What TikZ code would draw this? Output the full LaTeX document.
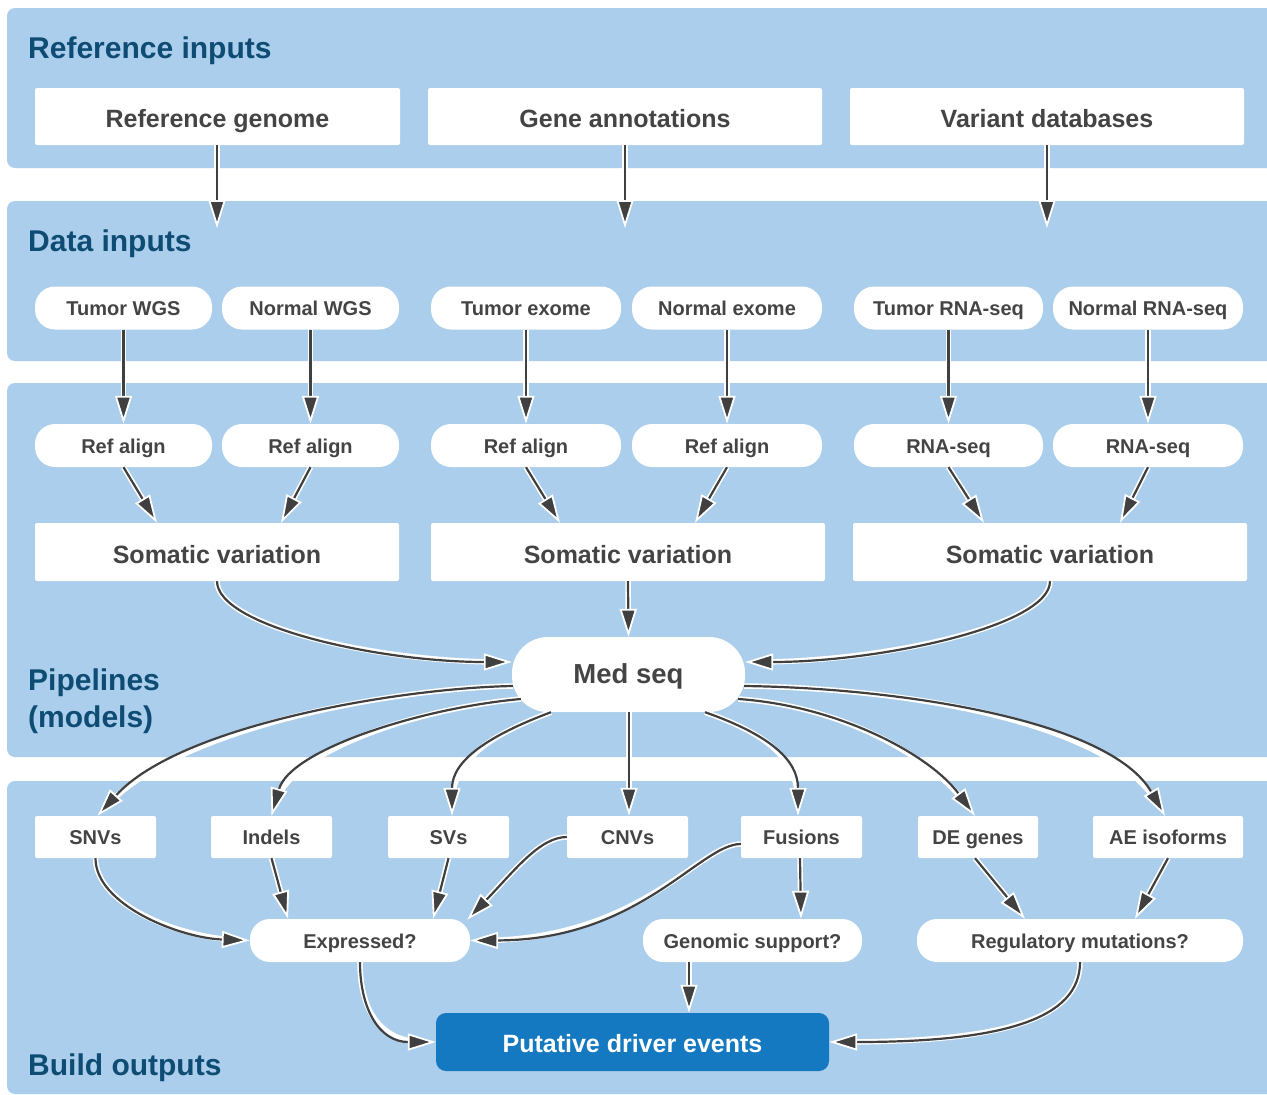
\documentclass[tikz,border=0pt]{standalone}
\usepackage{fontspec}
\setmainfont{Liberation Sans}
\usetikzlibrary{arrows.meta}
\definecolor{panel}{RGB}{170,206,235}
\definecolor{head}{RGB}{14,76,116}
\definecolor{txt}{RGB}{68,68,68}
\definecolor{outb}{RGB}{20,121,192}
\definecolor{dk}{RGB}{64,64,64}
\begin{document}
\begin{tikzpicture}[x=1pt,y=-1pt,
  heading/.style={anchor=base west, inner sep=0pt, text=head, font=\fontsize{30}{34}\selectfont\bfseries},
  nd/.style={fill=white, inner sep=0pt, text=txt, text depth=0pt},
  bigbox/.style={nd, rectangle, rounded corners=2pt, minimum height=57pt, text height=22.3pt, font=\fontsize{25}{30}\selectfont\bfseries},
  smallbox/.style={nd, rectangle, rounded corners=2pt, minimum height=42pt, text height=15.7pt, font=\fontsize{20}{24}\selectfont\bfseries},
  pill/.style={nd, rectangle, rounded corners=20pt, minimum height=43pt, text height=15.8pt, font=\fontsize{20}{24}\selectfont\bfseries},
  medbox/.style={nd, rectangle, rounded corners=36pt, minimum height=75pt, minimum width=233pt, text height=18.8pt, font=\fontsize{27.5}{32}\selectfont\bfseries},
  outbox/.style={nd, fill=outb, text=white, rectangle, rounded corners=10pt, minimum height=58pt, minimum width=393pt, text height=21.4pt, font=\fontsize{25}{30}\selectfont\bfseries},
  arr/.style={dk, line width=2.2pt,
    preaction={draw=white, line width=5.5pt, -, shorten >=12pt},
    -{Triangle[length=28pt,width=17pt,color=white,fill=dk,line width=1.8pt]}}
]
\clip (0,0) rectangle (1267,1095);
\fill[white] (0,0) rectangle (1267,1095);
% panels
\fill[panel, rounded corners=8pt] (7,8) rectangle (1290,168);
\fill[panel, rounded corners=8pt] (7,201) rectangle (1290,361);
\fill[panel, rounded corners=8pt] (7,383) rectangle (1290,757);
\fill[panel, rounded corners=8pt] (7,781) rectangle (1290,1094);
% headings
\node[heading] (h1) at (28,58) {Reference inputs};
\node[heading] (h2) at (28,251) {Data inputs};
\node[heading] (h3) at (28,690) {Pipelines};
\node[heading] (h3b) at (28,727) {(models)};
\node[heading] (h4) at (28,1075) {Build outputs};
% row 1
\node[bigbox, minimum width=365pt] (rg) at (217.5,116.5) {Reference genome};
\node[bigbox, minimum width=394pt] (ga) at (625,116.5) {Gene annotations};
\node[bigbox, minimum width=394pt] (vd) at (1047,116.5) {Variant databases};
\coordinate (rgE) at (217,228);
\coordinate (gaE) at (625,228);
\coordinate (vdE) at (1047,228);
% row 2
\node[pill, minimum width=177pt] (tw) at (123.5,308) {Tumor WGS};
\node[pill, minimum width=177pt] (nw) at (310.5,308) {Normal WGS};
\node[pill, minimum width=190pt] (te) at (526,308) {Tumor exome};
\node[pill, minimum width=190pt] (ne) at (727,308) {Normal exome};
\node[pill, minimum width=189pt] (tr) at (948.5,308) {Tumor RNA-seq};
\node[pill, minimum width=190pt] (nr) at (1148,308) {Normal RNA-seq};
% row 3
\node[pill, minimum width=177pt] (ra1) at (123.5,445.5) {Ref align};
\node[pill, minimum width=177pt] (ra2) at (310.5,445.5) {Ref align};
\node[pill, minimum width=190pt] (ra3) at (526,445.5) {Ref align};
\node[pill, minimum width=190pt] (ra4) at (727,445.5) {Ref align};
\node[pill, minimum width=189pt] (rs1) at (948.5,445.5) {RNA-seq};
\node[pill, minimum width=190pt] (rs2) at (1148,445.5) {RNA-seq};
% somatic
\node[bigbox, minimum width=364pt, minimum height=58pt] (sv1) at (217,552) {Somatic variation};
\node[bigbox, minimum width=394pt, minimum height=58pt] (sv2) at (628,552) {Somatic variation};
\node[bigbox, minimum width=394pt, minimum height=58pt] (sv3) at (1050,552) {Somatic variation};
% med seq
\node[medbox] (med) at (628.5,674.5) {Med seq};
% row 5
\node[smallbox, minimum width=121pt] (snv) at (95.5,837) {SNVs};
\node[smallbox, minimum width=121pt] (ind) at (271.5,837) {Indels};
\node[smallbox, minimum width=121pt] (sv) at (448.5,837) {SVs};
\node[smallbox, minimum width=121pt] (cnv) at (627.5,837) {CNVs};
\node[smallbox, minimum width=121pt] (fus) at (801.5,837) {Fusions};
\node[smallbox, minimum width=120pt] (de) at (978,837) {DE genes};
\node[smallbox, minimum width=150pt] (ae) at (1168,837) {AE isoforms};
% row 6
\node[pill, minimum width=220pt] (ex) at (360,940.5) {Expressed?};
\node[pill, minimum width=219pt] (gs) at (752.5,940.5) {Genomic support?};
\node[pill, minimum width=326pt] (rm) at (1080,940.5) {Regulatory mutations?};
% output
\node[outbox] (out) at (632.5,1042) {Putative driver events};

% arrows row1 -> panel 2
\draw[arr] ([xshift=-0.5pt]rg.south) -- (rgE);
\draw[arr] (ga.south) -- (gaE);
\draw[arr] (vd.south) -- (vdE);
% row 2 -> row 3
\draw[arr] (tw.south) -- (ra1.north);
\draw[arr] (nw.south) -- (ra2.north);
\draw[arr] (te.south) -- (ra3.north);
\draw[arr] (ne.south) -- (ra4.north);
\draw[arr] (tr.south) -- (rs1.north);
\draw[arr] (nr.south) -- (rs2.north);
% row 3 -> somatic
\draw[arr] (ra1.south) -- ([xshift=-60pt]sv1.north);
\draw[arr] (ra2.south) -- ([xshift=64pt]sv1.north);
\draw[arr] (ra3.south) -- ([xshift=-68pt]sv2.north);
\draw[arr] (ra4.south) -- ([xshift=67pt]sv2.north);
\draw[arr] (rs1.south) -- ([xshift=-66pt]sv3.north);
\draw[arr] (rs2.south) -- ([xshift=70pt]sv3.north);
% somatic -> med
\draw[arr] (sv1.south) .. controls (217,626) and (378,662) .. ([yshift=12.5pt]med.west);
\draw[arr] (sv2.south) -- (med.north);
\draw[arr] (sv3.south) .. controls (1050,626) and (880,662) .. ([yshift=12.5pt]med.east);
% med -> row 5
\draw[arr] ([xshift=1pt,yshift=-11.5pt]med.west) .. controls (400,688) and (180,725) .. ([xshift=2pt]snv.north);
\draw[arr] ([xshift=9pt,yshift=-24.5pt]med.west) .. controls (420,708) and (290,750) .. (ind.north);
\draw[arr] ([xshift=-77.5pt]med.south) .. controls (490,735) and (452,760) .. ([xshift=3.5pt]sv.north);
\draw[arr] ([xshift=0.5pt]med.south) -- ([xshift=1.5pt]cnv.north);
\draw[arr] ([xshift=76.5pt]med.south) .. controls (770,735) and (798,760) .. ([xshift=-3.5pt]fus.north);
\draw[arr] ([xshift=-7pt,yshift=-24.5pt]med.east) .. controls (840,706) and (930,755) .. ([xshift=-3pt]de.north);
\draw[arr] ([xshift=-1pt,yshift=-11.5pt]med.east) .. controls (900,688) and (1110,720) .. ([xshift=-3pt]ae.north);
% row 5 -> row 6
\draw[arr] (snv.south) .. controls (95.5,905) and (180,938) .. (ex.west);
\draw[arr] (ind.south) -- ([xshift=-72pt]ex.north);
\draw[arr] (sv.south) -- ([xshift=73pt]ex.north);
\draw[arr] (cnv.west) .. controls (540,837) and (515,870) .. ([xshift=-3pt,yshift=-1pt]ex.north east);
\draw[arr] ([yshift=-7pt]fus.west) .. controls (700,844) and (640,940) .. (ex.east);
\draw[arr] ([xshift=-1.5pt]fus.south) -- ([xshift=48.5pt]gs.north);
\draw[arr] ([xshift=-3pt]de.south) -- ([xshift=-55pt]rm.north);
\draw[arr] (ae.south) -- ([xshift=55pt]rm.north);
% row 6 -> out
\draw[arr] (ex.south) .. controls (360,1010) and (380,1042) .. (out.west);
\draw[arr] ([xshift=-63.5pt]gs.south) -- ([xshift=56.5pt]out.north);
\draw[arr] (rm.south) .. controls (1080,1020) and (1000,1042) .. (out.east);
\end{tikzpicture}
\end{document}
